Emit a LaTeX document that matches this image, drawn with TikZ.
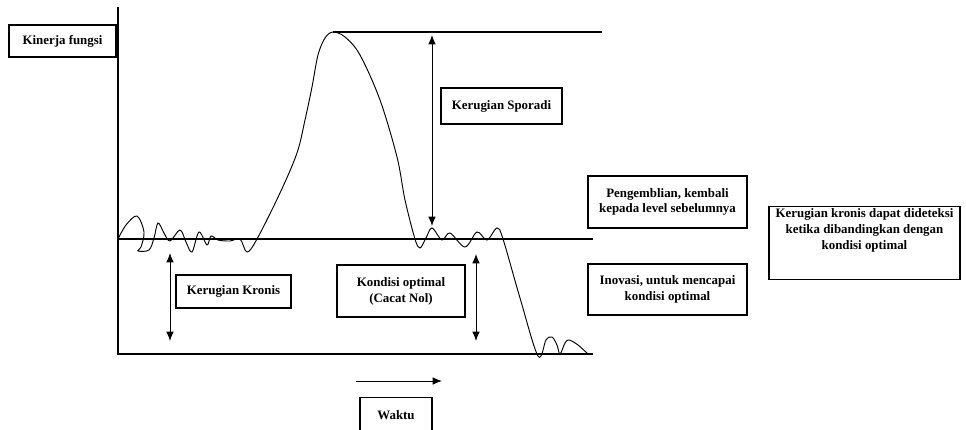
\documentclass[tikz,border=0pt]{standalone}
\usepackage{fontspec}
\setmainfont{Liberation Serif}
\usetikzlibrary{arrows.meta}

\begin{document}
\begin{tikzpicture}[x=0.03cm,y=-0.03cm,
  labelbox/.style={draw,line width=0.9pt,align=center,inner sep=2pt,
    font=\bfseries\fontsize{11}{13.5}\selectfont},
  levelline/.style={line width=1pt},
  gaparrow/.style={line width=0.8pt,{Latex[length=8pt,width=6.5pt]}-{Latex[length=8pt,width=6.5pt]}}]
\useasboundingbox (0,0) rectangle (966,430);
\coordinate (yTop) at (118,7);
\coordinate (base0) at (118,239);
\coordinate (base1) at (593,239);
\coordinate (low0) at (118,354);
\coordinate (low1) at (593,354);
\coordinate (peak) at (333,32);
\coordinate (top1) at (602,32);
\draw[levelline] (yTop) -- (low0) -- (low1);
\draw[levelline] (base0) -- (base1);
\draw[levelline] (peak) -- (top1);
\draw[line width=0.8pt] plot[smooth,tension=0.55] coordinates {
  (118,239) (126,225) (137,216) (144,232) (141,247) (138,251) (149,250) (154,238)
  (158,223) (164,233) (170,241) (180,230) (186,242) (192,252) (199,232)
  (207,245) (211,236) (218,240) (230,241) (240,239) (247,252) (257,239)
  (280,193) (297,153) (305,120) (312,87) (318,55) (325,38) (333,32)
  (345,37) (360,55) (380,100) (397,157) (405,200) (415,239) (420,248)
  (426,238) (432,228) (442,240) (450,233) (465,247) (477,232) (487,240)
  (497,228) (503,239) (520,298) (538,356) (546,340) (552,337) (557,345)
  (560,354) (565,343) (569,340) (578,345) (588,354)};
\coordinate (spA) at (432,35);
\coordinate (spB) at (432,226);
\coordinate (krA) at (170,253);
\coordinate (krB) at (170,341);
\coordinate (opA) at (476,254);
\coordinate (opB) at (476,341);
\coordinate (wkA) at (356,381);
\coordinate (wkB) at (442,381);
\draw[gaparrow] (spA) -- (spB);
\draw[gaparrow] (krA) -- (krB);
\draw[gaparrow] (opA) -- (opB);
\draw[line width=0.8pt,-{Latex[length=8pt,width=6.5pt]}] (wkA) -- (wkB);
\node[labelbox,minimum width=3.21cm,minimum height=0.96cm] (kinerja) at (62.5,41) {Kinerja fungsi};
\node[labelbox,minimum width=3.63cm,minimum height=1.08cm] (sporadi) at (501.5,106) {Kerugian Sporadi};
\node[labelbox,minimum width=3.45cm,minimum height=0.99cm] (kronis) at (233.5,291.5) {Kerugian Kronis};
\node[labelbox,minimum width=3.84cm,minimum height=1.56cm] (optimal) at (401,291) {Kondisi optimal\\(Cacat Nol)};
\node[labelbox,minimum width=4.77cm,minimum height=1.56cm] (kembali) at (667.5,202) {Pengemblian, kembali\\kepada level sebelumnya};
\node[labelbox,minimum width=4.77cm,minimum height=1.53cm] (inovasi) at (667.5,289.5) {Inovasi, untuk mencapai\\kondisi optimal};
\node[labelbox,minimum width=5.73cm,text depth=24pt,anchor=north] (deteksi) at (864.5,206) {Kerugian kronis dapat dideteksi\\ketika dibandingkan dengan\\kondisi optimal};
\node[labelbox,minimum width=2.16cm,minimum height=1.08cm,anchor=north] (waktu) at (396,397) {Waktu};
\end{tikzpicture}
\end{document}
